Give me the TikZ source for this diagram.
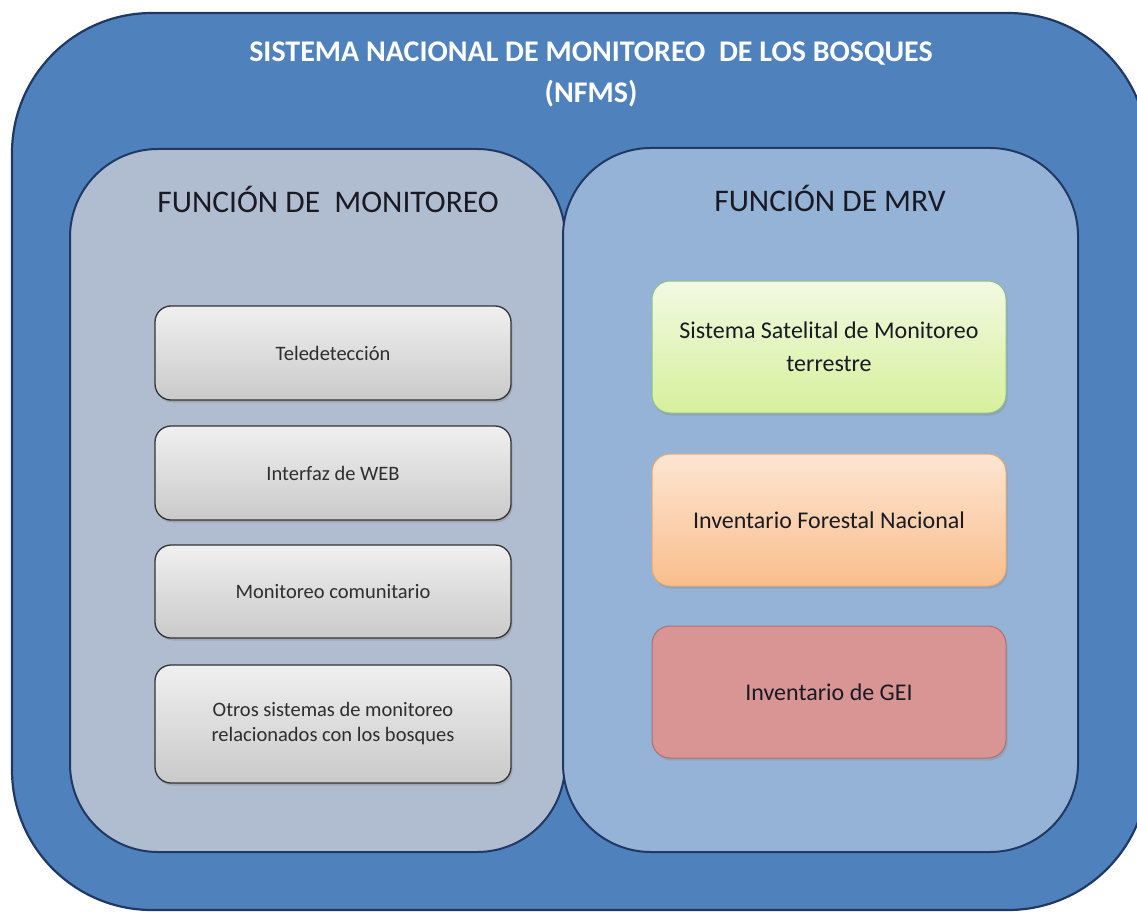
\documentclass[tikz,border=0pt]{standalone}
\usepackage{fontspec}
\setmainfont{Carlito}
\usetikzlibrary{shadows}
\definecolor{outerblue}{HTML}{4F81BD}
\definecolor{navy}{HTML}{1F3864}
\definecolor{leftfill}{HTML}{B0BCD0}
\definecolor{rightfill}{HTML}{95B3D7}
\definecolor{txtdark}{HTML}{1A1A24}
\definecolor{boxtxt}{HTML}{2E2E2E}
\tikzset{
  panel/.style={draw=navy, line width=2pt, rounded corners=88pt, inner sep=0pt},
  graybox/.style={draw=black!80, line width=1.3pt, rounded corners=16pt,
    top color=gray!12, bottom color=gray!42, minimum width=356pt, text=boxtxt,
    font=\fontsize{20.5}{25}\selectfont, align=center,
    drop shadow={shadow xshift=1.5pt, shadow yshift=-2.5pt, opacity=0.35}},
  mrvbox/.style={rounded corners=18pt, minimum width=354pt, minimum height=132pt,
    text=txtdark, font=\fontsize{24}{33}\selectfont, align=center, line width=1pt,
    drop shadow={shadow xshift=1.5pt, shadow yshift=-2.5pt, opacity=0.3}},
  ptitle/.style={text=txtdark, font=\fontsize{31.5}{36}\selectfont}
}
\begin{document}
\begin{tikzpicture}[x=1pt,y=-1pt]
\clip (0,0) rectangle (1137,912);
\fill[white] (0,0) rectangle (1137,912);
% outer
\node[draw=navy, line width=2.2pt, fill=outerblue, rounded corners=140pt,
  minimum width=1136pt, minimum height=897pt, inner sep=0pt] (outer) at (580,461.5) {};
\node[text=white, font=\bfseries\fontsize{30}{41}\selectfont, align=center] (title) at (591,74)
  {SISTEMA NACIONAL DE MONITOREO\ \ DE LOS BOSQUES\\(NFMS)};
% panels
\node[panel, fill=leftfill, minimum width=495pt, minimum height=703pt] (left) at (317.5,500.5) {};
\node[panel, fill=rightfill, minimum width=515pt, minimum height=704pt] (right) at (820.5,500) {};
\node[ptitle] (lt) at (328,199) {FUNCIÓN DE\ \ MONITOREO};
\node[ptitle] (rt) at (830,198) {FUNCIÓN DE MRV};
% left boxes
\node[graybox, minimum height=94pt] (b1) at (333,353) {Teledetección};
\node[graybox, minimum height=94pt] (b2) at (333,473) {Interfaz de WEB};
\node[graybox, minimum height=93pt] (b3) at (333,591.5) {Monitoreo comunitario};
\node[graybox, minimum height=118pt] (b4) at (333,724) {Otros sistemas de monitoreo\\relacionados con los bosques};
% right boxes
\node[mrvbox, draw=green!30!gray!70, top color={rgb,255:red,242;green,249;blue,225}, bottom color={rgb,255:red,214;green,240;blue,156}] (g) at (829,347) {Sistema Satelital de Monitoreo\\terrestre};
\node[mrvbox, draw={rgb,255:red,232;green,168;blue,112}, top color={rgb,255:red,253;green,229;blue,210}, bottom color={rgb,255:red,249;green,190;blue,140}] (o) at (829,520) {Inventario Forestal Nacional};
\node[mrvbox, draw={rgb,255:red,176;green,112;blue,112}, fill={rgb,255:red,217;green,149;blue,148}] (r) at (829,692) {Inventario de GEI};
\end{tikzpicture}
\end{document}
